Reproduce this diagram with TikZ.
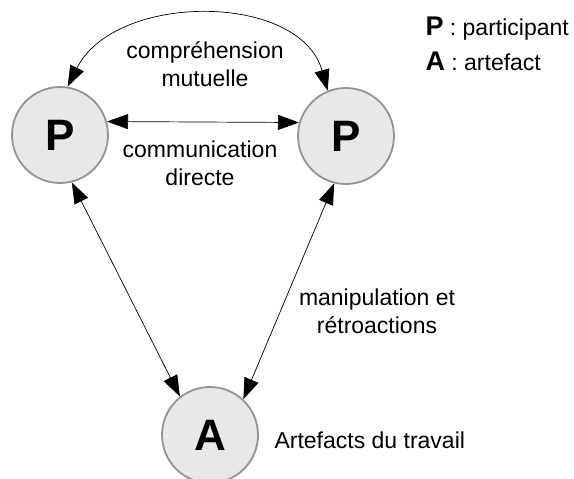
\documentclass[tikz,border=0pt]{standalone}
\usepackage{fontspec}
\setmainfont{Liberation Sans}
\usetikzlibrary{arrows.meta}

\begin{document}
\begin{tikzpicture}[x=1pt,y=-1pt,
    partic/.style={circle,draw=gray!85,line width=1.8pt,fill=gray!18,
      minimum size=96pt,inner sep=0pt,font=\fontsize{44}{44}\selectfont\bfseries},
    lien/.style={line width=0.7pt,
      {Triangle[length=21pt,width=15pt]}-{Triangle[length=21pt,width=15pt]}},
    txt/.style={align=center,font=\fontsize{23}{28}\selectfont}]
  \useasboundingbox (0,0) rectangle (574,479);
  % participants et artefact
  \node[partic] (p1) at (60,135) {P};
  \node[partic] (p2) at (346,136) {P};
  \node[partic] (a) at (210,435) {A};
  % liens
  \draw[lien] (p1.81) .. controls (115,-8) and (300,-8) .. (p2.112);
  \draw[lien] (p1.16) -- (p2.164);
  \draw[lien] (p1.-76) -- (a.128);
  \draw[lien] (p2.256) -- (a.47);
  % textes
  \node[txt] (lcomp) at (205,64) {compréhension\\mutuelle};
  \node[txt] (lcomm) at (200,163) {communication\\directe};
  \node[txt] (lmanip) at (377,311) {manipulation et\\rétroactions};
  \node[txt,anchor=west] (lart) at (271,440) {Artefacts du travail};
  % legende
  \node[txt,anchor=west] (legp) at (422,29) {{\fontsize{27}{27}\selectfont\bfseries P} : participant};
  \node[txt,anchor=west] (lega) at (422,61) {{\fontsize{27}{27}\selectfont\bfseries A} : artefact};
\end{tikzpicture}
\end{document}
